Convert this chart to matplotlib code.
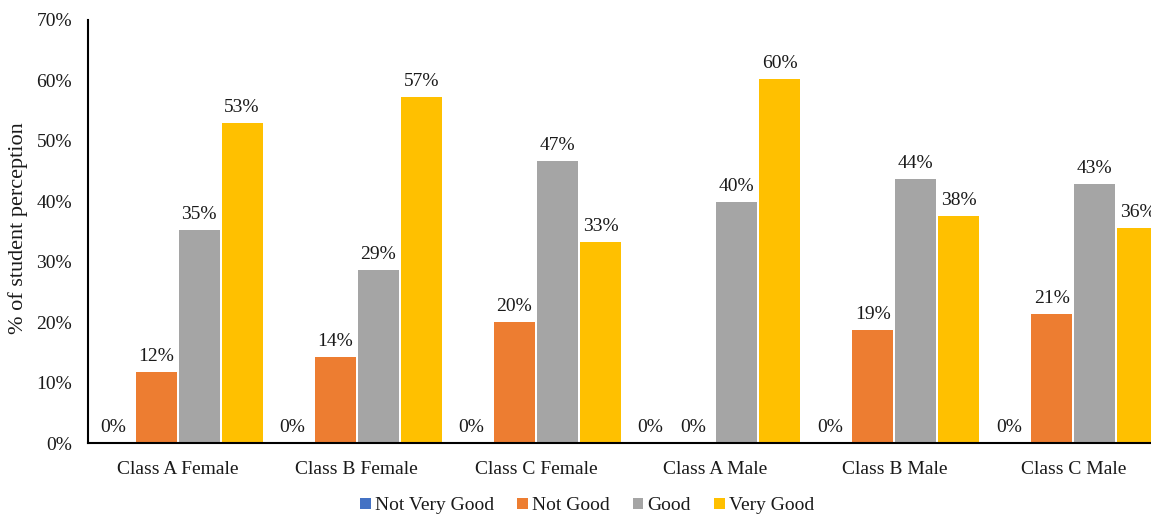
import matplotlib
matplotlib.use("Agg")
import matplotlib.pyplot as plt
import numpy as np

categories = ["Class A Female", "Class B Female", "Class C Female",
              "Class A Male", "Class B Male", "Class C Male"]
series_names = ["Not Very Good", "Not Good", "Good", "Very Good"]
not_very_good = [0.0, 0.0, 0.0, 0.0, 0.0, 0.0]
not_good = [0.1175, 0.142, 0.200, 0.0, 0.187, 0.214]
good = [0.353, 0.286, 0.467, 0.399, 0.437, 0.429]
very_good = [0.530, 0.573, 0.333, 0.603, 0.376, 0.356]
colors = ["#4472C4", "#ED7D31", "#A5A5A5", "#FFC000"]

plt.rcParams['font.family'] = ['Liberation Serif', 'DejaVu Serif']

fig = plt.figure(figsize=(11.51, 5.15), dpi=100)
ax = fig.add_axes([88/1151, 1 - 443/515, 1075/1151, 423/515])

x = np.arange(len(categories))
pitch = 0.24
width = 0.228
data = [not_very_good, not_good, good, very_good]
for i, (name, vals, c) in enumerate(zip(series_names, data, colors)):
    pos = x + (i - 1.5) * pitch
    ax.bar(pos, vals, width, color=c, label=name, zorder=2)
    for xp, v in zip(pos, vals):
        ax.annotate(f"{v:.0%}", (xp, v), xytext=(0, 5), textcoords="offset points",
                    ha="center", va="bottom", fontsize=14, color="#1a1a1a")

ax.set_xlim(-0.5, len(categories) - 0.5)
ax.set_ylim(0, 0.70)
ticks = np.arange(0, 0.71, 0.1)
ax.set_yticks(ticks)
ax.set_yticklabels([f"{int(round(t*100))}%" for t in ticks], fontsize=14, color="#1a1a1a")
ax.set_xticks(x)
ax.set_xticklabels(categories, fontsize=14, color="#1a1a1a")
ax.tick_params(axis='both', length=0)
ax.tick_params(axis='y', pad=11.5)
ax.tick_params(axis='x', pad=13)
for s in ["top", "right"]:
    ax.spines[s].set_visible(False)
for s in ["left", "bottom"]:
    ax.spines[s].set_linewidth(1.5)
    ax.spines[s].set_color("black")

fig.text(18/1151, 1 - 228/515, "% of student perception", rotation=90,
         ha="center", va="center", fontsize=16, color="#1a1a1a")

leg = fig.legend(loc="center", bbox_to_anchor=(587/1151, 1 - 506/515), ncol=4,
                 frameon=False, fontsize=14, handlelength=0.55, handleheight=0.55,
                 handletextpad=0.2, columnspacing=1.2, borderpad=0.1)
for t in leg.get_texts():
    t.set_color("#1a1a1a")

fig.savefig("out.png", dpi=100)
